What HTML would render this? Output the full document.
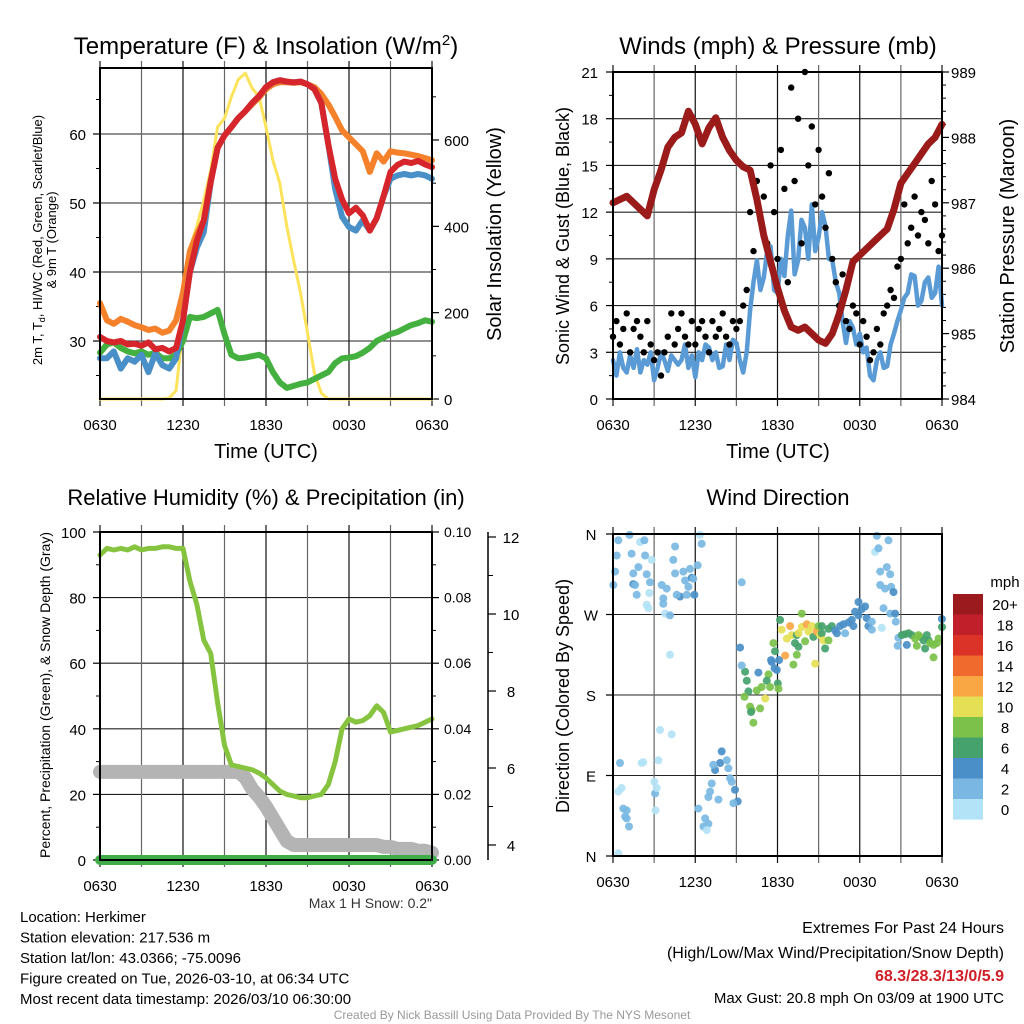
<!DOCTYPE html>
<html><head><meta charset="utf-8"><style>
html,body{margin:0;padding:0;background:#fff;}
svg{display:block;font-family:"Liberation Sans",Arial,sans-serif;}
</style></head><body>
<svg id="chart" width="1024" height="1024" viewBox="0 0 1024 1024" xmlns="http://www.w3.org/2000/svg"></svg>
<script>
// ---------- DATA ----------
const tHalf = [0,0.5,1,1.5,2,2.5,3,3.5,4,4.5,5,5.5,6,6.5,7,7.5,8,8.5,9,9.5,10,10.5,11,11.5,12,12.5,13,13.5,14,14.5,15,15.5,16,16.5,17,17.5,18,18.5,19,19.5,20,20.5,21,21.5,22,22.5,23,23.5,24];
const temp2m = [30.6,30,29.8,30,29.5,29.6,29.3,29.8,28.8,29,28.5,29,33,40,44.5,47.5,53,58,59.8,61,62.3,63.3,64.5,65.5,66.8,67.5,67.8,67.6,67.5,67.6,67.2,66.5,64.5,58.5,53.5,50.5,48.5,49.3,48.2,46,47.8,51,54.5,55.5,56,55.8,56.1,55.6,55.2];
const temp9m = [35.5,33,32.5,33.2,32.8,32.3,32,31.6,31.8,31.2,31.5,33,37,43,45.5,47.5,53.3,58,59.8,61,62.3,63.3,64.3,65.3,66.5,67.2,67.5,67.5,67.4,67.5,67.2,66.8,65.8,64.3,62.5,60.5,59.5,58.5,57.5,54.5,57.2,56,57.5,57.3,57.2,57,56.8,56.5,56.2];
const heatIdx = [27.5,27.5,28.5,26,27.5,27,28,25.5,28.2,26.5,26,27.5,33,40,43.5,45.8,53,58,59.8,61,62.3,63.3,64.5,65.5,66.8,67.5,67.8,67.6,67.5,67.6,67.2,66.5,64.5,58.5,52,48,46.5,46,47.5,46,47.8,51,53.5,54,54.2,54,54.2,54,53.5];
const dewpt = [28.3,29.5,29.8,29,28.5,28.2,28.5,28,28.3,27.5,27.5,28,30,33.5,33.3,33.5,34,34.5,31,28,27.5,27.6,27.8,28,27.5,25.5,24,23.2,23.5,23.8,24,24.5,25,25.5,26.8,27.5,27.6,27.8,28.3,29,30,30.5,31,31.3,31.8,32.3,32.6,33,32.8];
const solar = [0,0,0,0,0,0,0,0,0,0,2,20,167,350,400,460,530,630,650,700,740,755,720,700,630,553,500,400,320,245,153,60,14,0,0,0,0,0,0,0,0,0,0,0,0,0,0,0,0];
const pressure = [987.0,987.05,987.1,987.0,986.9,986.8,987.2,987.5,987.85,988.0,988.07,988.4,988.2,987.9,988.15,988.3,988.0,987.8,987.65,987.55,987.5,987.05,986.5,986.1,985.7,985.35,985.1,985.05,985.1,985.0,984.9,984.85,985.0,985.3,985.67,986.1,986.2,986.3,986.4,986.5,986.6,986.9,987.3,987.45,987.6,987.75,987.9,988.0,988.2];
const tQuarter = [0,0.25,0.5,0.75,1,1.25,1.5,1.75,2,2.25,2.5,2.75,3,3.25,3.5,3.75,4,4.25,4.5,4.75,5,5.25,5.5,5.75,6,6.25,6.5,6.75,7,7.25,7.5,7.75,8,8.25,8.5,8.75,9,9.25,9.5,9.75,10,10.25,10.5,10.75,11,11.25,11.5,11.75,12,12.25,12.5,12.75,13,13.25,13.5,13.75,14,14.25,14.5,14.75,15,15.25,15.5,15.75,16,16.25,16.5,16.75,17,17.25,17.5,17.75,18,18.25,18.5,18.75,19,19.25,19.5,19.75,20,20.25,20.5,20.75,21,21.25,21.5,21.75,22,22.25,22.5,22.75,23,23.25,23.5,23.75,24];
const windSpd = [2.5,1.5,3,2, 1.7,2.8,2,3.2, 1.7,2.5,2.2,3, 1.2,2,3,2.5, 1.8,2.8,2.5,2.2, 2.5,3.5,2,2.8, 1.4,3,2.5,3.5, 3.3,2.5,3,2, 2.1,3.5,2.5,3.8, 3.6,2.5,1.7,3, 5.7,7.5,8.9,7, 7.8,9.5,9.8,7, 6.8,9,7.9,10.5, 12.1,8,8.9,11.5, 11,9,12.5,9.5, 10.4,12,11.1,9, 8.9,7.5,6.8,5, 3.6,5,4.6,3.5, 4.2,3,3.3,1.5, 1.2,2.5,3,2, 2.1,3.5,4.2,5, 5.7,6.5,6.8,8, 7.9,6,6.3,7.5, 7.8,6.5,6.8,8.5, 6];
const windGust = [4,5,3.5,4.5, 5.5,3,4.5,5, 4,3,5,3.5, 2.5,3,1.5,3, 4,5.5,3.5,4.5, 5.5,4,3.5,5, 3.5,4.5,5,4, 3,5,4,4.5, 5.5,4,3.5,5, 4.5,5,6,7, 12,9.5,14,11.5, 13,10,15,12, 9,16,13.5,7.5, 20,14,18,10, 21,15,17.5,12.5, 16,13,11,14.5, 9,7.5,6,8, 5,4.5,6,5.5, 3.5,5,4,2.5, 3,4.5,3.5,5.5, 6,7,6.5,8.5, 9,12.5,10,11, 13,10.5,12,11.5, 10,14,12.5,9.5, 10.5];
const relHum = [93,95,94.5,95,94.5,95.5,94.5,95,95,95.5,95.5,95,95,85,78,67,63,48,35,29,28.5,28,27.5,26.5,25,23,21,20,19.5,19,19,19.5,20,23,30,40,43,42,42.5,44,47,45,39,39.5,40,40.5,41,42,43];
const snowDepth = [5.9,5.9,5.9,5.9,5.9,5.9,5.9,5.9,5.9,5.9,5.9,5.9,5.9,5.9,5.9,5.9,5.9,5.9,5.9,5.9,5.9,5.75,5.45,5.25,5.0,4.7,4.4,4.1,4.0,4.0,4.0,4.0,4.0,4.0,4.0,4.0,4.0,4.0,4.0,4.0,4.0,3.95,3.95,3.9,3.9,3.9,3.85,3.85,3.8];
const precipHrs = [0,1,2,3,4,5,6,7,8,9,10,11,12,13,14,15,16,17,18,19,20,21,22,23,24];
const precip = [0,0,0,0,0,0,0,0,0,0,0,0,0,0,0,0,0,0,0,0,0,0,0,0,0];
const dirT = [0.39,1.2,0.27,0.15,0.02,1.36,1.97,2.29,2.34,2.82,1.85,1.48,1.48,1.73,1.61,2.46,2.7,2.65,2.46,2.58,3.55,3.92,3.67,3.67,3.8,4.16,4.53,4.4,4.53,5.13,5.26,5.62,5.74,4.89,4.65,5.38,5.5,5.94,5.86,6.18,6.35,6.47,9.39,4.16,
 0.51,0.63,0.39,0.75,0.88,1.0,1.17,1.0,0.39,2.09,2.21,3.02,3.07,3.19,3.11,3.43,4.28,3.31,
 7.93,7.81,7.45,7.32,8.3,8.42,8.54,8.66,7.2,7.08,6.96,7.69,8.9,9.1,8.78,6.72,6.96,6.6,6.84,6.23,
 9.64,9.76,9.88,9.59,10.61,10.49,10.85,11.1,11.34,11.22,11.46,11.58,11.7,11.82,11.95,12.02,12.07,10.0,10.12,10.24,10.73,10.07,11.53,11.78,12.12,9.27,9.39,
 12.19,12.31,12.68,12.92,13.04,13.28,13.41,13.53,13.77,13.77,14.14,14.26,14.5,14.62,14.86,14.99,15.11,15.23,15.35,15.47,12.56,13.16,14.74,14.01,13.41,13.53,15.23,15.72,15.96,16.2,16.33,16.57,16.81,16.93,17.18,17.42,17.66,17.91,18.15,18.39,18.51,18.63,18.88,17.91,17.54,15.72,
 19.25,19.12,19.37,20.1,19.49,19.97,20.22,19.49,19.85,20.29,20.46,19.73,20.22,20.58,20.63,18.88,19.61,20.82,20.77,21.43,
 21.07,21.31,21.56,21.8,22.04,22.16,22.41,22.65,22.77,23.02,23.14,23.38,23.63,23.75,23.38,23.99,24,22.28,22.89];
const dirD = [353,359,336,318,303,338,351,353,336,331,323,316,304,292,303,315,306,294,281,277,303,299,288,282,271,269,346,331,316,318,308,321,311,290,292,292,301,292,310,325,359,349,306,225,
 104,76,72,53,44,42,33,51,3,104,105,83,70,76,51,141,136,107,
 117,104,96,102,107,98,87,83,81,72,66,63,74,61,59,42,36,33,29,53,
 206,196,184,178,205,185,189,176,203,196,189,217,238,229,208,193,187,167,163,149,165,161,219,210,219,233,213,
 264,253,243,257,247,238,247,249,271,256,259,251,257,245,251,257,247,249,241,232,224,214,215,240,225,234,257,254,257,252,249,257,259,249,261,264,273,269,276,279,266,257,253,284,257,241,
 358,340,344,353,318,323,315,303,299,301,295,277,271,271,262,262,255,244,235,236,
 247,248,249,247,243,235,245,241,232,241,238,236,238,243,222,265,256,247,247];
const dirS = [3,3,3,3,3,3,1,3,3,1,3,3,5,3,3,3,3,1,1,1,3,3,3,3,1,3,3,3,3,3,3,3,5,5,3,3,3,5,3,3,1,3,3,1,
 3,1,1,3,3,3,3,3,1,1,1,1,3,1,1,1,1,1,
 5,5,5,3,3,3,3,3,3,3,3,3,5,5,3,3,3,3,1,3,
 7,7,7,9,5,9,9,11,9,7,9,5,9,7,5,7,9,9,9,9,9,7,5,5,5,5,3,
 7,11,11,13,11,7,7,11,9,11,13,11,11,7,13,9,11,7,11,7,13,9,11,9,9,7,7,7,7,5,5,5,5,3,5,5,5,5,5,5,5,5,3,5,5,9,
 3,1,3,3,3,3,3,3,3,3,5,3,3,5,3,3,1,3,3,5,
 7,7,7,7,9,9,9,7,7,7,9,9,9,9,9,5,7,9,7];
const cbLabels = ["20+","18","16","14","12","10","8","6","4","2","0"];
const cbColors = ["#9b1a1e","#c1202a","#dc3329","#ef6a2c","#f9a645","#e5df55","#7bc14a","#45a26c","#4a8fc7","#7ab8e3","#b3e3f6"];
const xTickLabels = ["0630","1230","1830","0030","0630"];
const dirLabels = ["N","E","S","W","N"];

// ---------- HELPERS ----------
const NS = "http://www.w3.org/2000/svg";
const svg = document.getElementById('chart');
function mk(tag, attrs, name, parent) {
  const el = document.createElementNS(NS, tag);
  for (const k in attrs) el.setAttribute(k, attrs[k]);
  
  
  (parent || svg).appendChild(el);
  return el;
}
function ln(x1,y1,x2,y2,stroke,w,name){ return mk('line',{x1:x1,y1:y1,x2:x2,y2:y2,stroke:stroke,'stroke-width':w},name); }
function tx(x,y,s,size,anchor,name,extra){
  const a = Object.assign({x:x,y:y,'font-size':size,'text-anchor':anchor||'middle',fill:'#000'}, extra||{});
  const el = mk('text',a,name); el.textContent = s; return el;
}
function poly(xs, ys, stroke, w, name) {
  let d = '';
  for (let i=0;i<xs.length;i++) d += (i?'L':'M') + xs[i].toFixed(1) + ',' + ys[i].toFixed(1);
  return mk('path',{d:d,fill:'none',stroke:stroke,'stroke-width':w,'stroke-linejoin':'round','stroke-linecap':'round'},name);
}
function frame(x0,y0,x1,y1,name){ mk('rect',{x:x0,y:y0,width:x1-x0,height:y1-y0,fill:'none',stroke:'#000','stroke-width':2},name); }
function timeGrid(X, y0, y1, prefix) {
  for (let h=0; h<=24; h+=3) {
    const x = X(h);
    ln(x, y0-7, x, y1+7, (h%6===0)?'#111':'#666', 1.2, prefix+'-x-grid-'+h);
  }
  for (let i=0;i<xTickLabels.length;i++) tx(X(i*6), y1+31, xTickLabels[i], 15, 'middle', prefix+'-x-tick-label');
}

// ---------- PANEL 1 ----------
const X1 = t => 100 + t*332/24;
const YT = v => 341 - (v-30)*6.9;
const YS = w => 399 - w*0.4317;
[30,40,50,60].forEach(v=>{ ln(100,YT(v),432,YT(v),'#222',1.1,'temp-grid-line'); ln(93,YT(v),100,YT(v),'#000',1.2,'temp-major-tick'); tx(86,YT(v)+6,String(v),15,'end','temp-tick-label'); });
[25,35,45,55,65].forEach(v=>ln(96,YT(v),100,YT(v),'#000',1,'temp-minor-tick'));
[0,200,400,600].forEach(w=>{ ln(432,YS(w),439,YS(w),'#000',1.2,'solar-major-tick'); tx(444,YS(w)+6,String(w),15,'start','solar-tick-label'); });
[100,300,500,700].forEach(w=>ln(432,YS(w),436,YS(w),'#000',1,'solar-minor-tick'));
timeGrid(X1,68,399,'temp');
poly(tHalf.map(X1), solar.map(YS), '#fde35b', 3, 'solar-insolation-line');
poly(tHalf.map(X1), dewpt.map(YT), '#44b03f', 6, 'dewpoint-line');
poly(tHalf.map(X1), temp9m.map(YT), '#f5822b', 6, 'temp-9m-line');
poly(tHalf.map(X1), heatIdx.map(YT), '#4a90c8', 6, 'heat-index-wind-chill-line');
poly(tHalf.map(X1), temp2m.map(YT), '#d7262b', 6, 'temp-2m-line');
frame(100,68,432,399,'temp-plot-frame');
const t1 = tx(266,54,'Temperature (F) & Insolation (W/m',24,'middle','temp-panel-title');
const sup = document.createElementNS(NS,'tspan'); sup.setAttribute('dy','-9'); sup.setAttribute('font-size','15'); sup.textContent='2';


t1.appendChild(sup);
const cl = document.createElementNS(NS,'tspan'); cl.setAttribute('dy','9'); cl.textContent=')';


t1.appendChild(cl);
tx(266,458,'Time (UTC)',20,'middle','temp-x-axis-title');
tx(0,0,'2m T, T',13,'middle','temp-y-axis-title-line1',{transform:'translate(42,240) rotate(-90)'}).innerHTML='2m T, T<tspan font-size="9" dy="3">d</tspan><tspan dy="-3">, HI/WC (Red, Green, Scarlet/Blue)</tspan>';
tx(0,0,'& 9m T (Orange)',13,'middle','temp-y-axis-title-line2',{transform:'translate(56,240) rotate(-90)'});
tx(0,0,'Solar Insolation (Yellow)',20,'middle','solar-y-axis-title',{transform:'translate(501,234) rotate(-90)'});

// ---------- PANEL 2 ----------
const X2 = t => 613 + t*329/24;
const YW = v => 399 - v*327/21;
const YP = p => 399 - (p-984)*327/5;
[0,3,6,9,12,15,18,21].forEach(v=>{ ln(613,YW(v),942,YW(v),'#222',1.1,'wind-grid-line'); ln(606,YW(v),613,YW(v),'#000',1.2,'wind-major-tick'); tx(598,YW(v)+6,String(v),15,'end','wind-tick-label'); });
[1.5,4.5,7.5,10.5,13.5,16.5,19.5].forEach(v=>ln(609,YW(v),613,YW(v),'#000',1,'wind-minor-tick'));
[984,985,986,987,988,989].forEach(p=>{ ln(942,YP(p),949,YP(p),'#000',1.2,'pressure-major-tick'); tx(951,YP(p)+6,String(p),15,'start','pressure-tick-label'); });
for (let i=1;i<25;i++){ if(i%5) ln(942,YP(984+i*0.2),946,YP(984+i*0.2),'#000',1,'pressure-minor-tick'); }
timeGrid(X2,72,399,'wind');
poly(tQuarter.map(X2), windSpd.map(YW), '#5a9bd5', 4.5, 'sonic-wind-line');
tQuarter.forEach((t,i)=>{ mk('circle',{cx:X2(t).toFixed(1),cy:YW(windGust[i]).toFixed(1),r:3.2,fill:'#000'},'gust-point'); });
poly(tHalf.map(X2), pressure.map(YP), '#9b1b1b', 7, 'station-pressure-line');
frame(613,72,942,399,'wind-plot-frame');
tx(778,54,'Winds (mph) & Pressure (mb)',24,'middle','wind-panel-title');
tx(778,458,'Time (UTC)',20,'middle','wind-x-axis-title');
tx(0,0,'Sonic Wind & Gust (Blue, Black)',18,'middle','wind-y-axis-title',{transform:'translate(569,236) rotate(-90)'});
tx(0,0,'Station Pressure (Maroon)',20,'middle','pressure-y-axis-title',{transform:'translate(1014,236) rotate(-90)'});

// ---------- PANEL 3 ----------
const X3 = X1;
const YR = r => 860 - r*3.28;
const YPr = p => 860 - p*3280;
const YSn = s => 845 - (s-4)*38.5;
[0,20,40,60,80,100].forEach(v=>{ ln(100,YR(v),432,YR(v),'#222',1.1,'rh-grid-line'); ln(93,YR(v),100,YR(v),'#000',1.2,'rh-major-tick'); tx(86,YR(v)+6,String(v),15,'end','rh-tick-label'); });
[10,30,50,70,90].forEach(v=>ln(96,YR(v),100,YR(v),'#000',1,'rh-minor-tick'));
[0,0.02,0.04,0.06,0.08,0.10].forEach(p=>{ ln(432,YPr(p),439,YPr(p),'#000',1.2,'precip-major-tick'); tx(444,YPr(p)+5,p.toFixed(2),14,'start','precip-tick-label'); });
[0.01,0.03,0.05,0.07,0.09].forEach(p=>ln(432,YPr(p),436,YPr(p),'#000',1,'precip-minor-tick'));
ln(488,532,488,860,'#000',1.5,'snow-axis-line');
[4,6,8,10,12].forEach(s=>{ ln(488,YSn(s),496,YSn(s),'#000',1.2,'snow-major-tick'); tx(511,YSn(s)+6,String(s),15,'middle','snow-tick-label'); });
[5,7,9,11].forEach(s=>ln(488,YSn(s),493,YSn(s),'#000',1,'snow-minor-tick'));
timeGrid(X3,532,860,'rh');
poly(tHalf.map(X3), snowDepth.map(YSn), '#b4b4b4', 14, 'snow-depth-line');
poly(tHalf.map(X3), relHum.map(YR), '#86c440', 5, 'relative-humidity-line');
poly(precipHrs.map(X3), precip.map(YPr), '#3fae49', 10, 'precipitation-line');
frame(100,532,432,860,'rh-plot-frame');
tx(266,505,'Relative Humidity (%) & Precipitation (in)',22,'middle','rh-panel-title');
tx(0,0,'Percent, Precipitation (Green), & Snow Depth (Gray)',14,'middle','rh-y-axis-title',{transform:'translate(50,695) rotate(-90)'});
tx(432,908,'Max 1 H Snow: 0.2"',14,'end','max-snow-note',{fill:'#333'});

// ---------- PANEL 4 ----------
const X4 = X2;
const YD = d => 856 - d*322/360;
[0,90,180,270,360].forEach((d,i)=>{ ln(613,YD(d),942,YD(d),'#222',1.1,'dir-grid-line'); ln(606,YD(d),613,YD(d),'#000',1.2,'dir-major-tick'); tx(591,YD(d)+6,dirLabels[i],15,'middle','dir-tick-label'); });
timeGrid(X4,534,856,'dir');
dirT.forEach((t,i)=>{
  const b = Math.min(10, Math.floor(dirS[i]/2));
  mk('circle',{cx:X4(t).toFixed(1),cy:YD(dirD[i]).toFixed(1),r:4,fill:cbColors[10-b],'fill-opacity':0.92},'wind-direction-point');
});
frame(613,534,942,856,'dir-plot-frame');
tx(778,505,'Wind Direction',22,'middle','dir-panel-title');
tx(0,0,'Direction (Colored By Speed)',18,'middle','dir-y-axis-title',{transform:'translate(569,696) rotate(-90)'});
cbLabels.forEach((l,i)=>{
  mk('rect',{x:953,y:(594+i*20.5).toFixed(1),width:30,height:20.6,fill:cbColors[i]},'colorbar-swatch');
  tx(1005,594+i*20.5+16,l,15,'middle','colorbar-label');
});
tx(1005,587,'mph',15,'middle','colorbar-unit');

// ---------- FOOTER TEXT ----------
const info = ['Location: Herkimer','Station elevation: 217.536 m','Station lat/lon: 43.0366; -75.0096','Figure created on Tue, 2026-03-10, at 06:34 UTC','Most recent data timestamp: 2026/03/10 06:30:00'];
info.forEach((s,i)=>tx(20,922+i*20.5,s,15,'start','station-info-line'));
tx(1004,933,'Extremes For Past 24 Hours',16,'end','extremes-title');
tx(1004,958,'(High/Low/Max Wind/Precipitation/Snow Depth)',16,'end','extremes-subtitle');
tx(1004,981,'68.3/28.3/13/0/5.9',16,'end','extremes-values',{fill:'#d01f26','font-weight':'bold'});
tx(1004,1003,'Max Gust: 20.8 mph On 03/09 at 1900 UTC',15,'end','max-gust-note');
tx(512,1019,'Created By Nick Bassill Using Data Provided By The NYS Mesonet',12,'middle','credit-footer',{fill:'#999'});
</script>
</body></html>
